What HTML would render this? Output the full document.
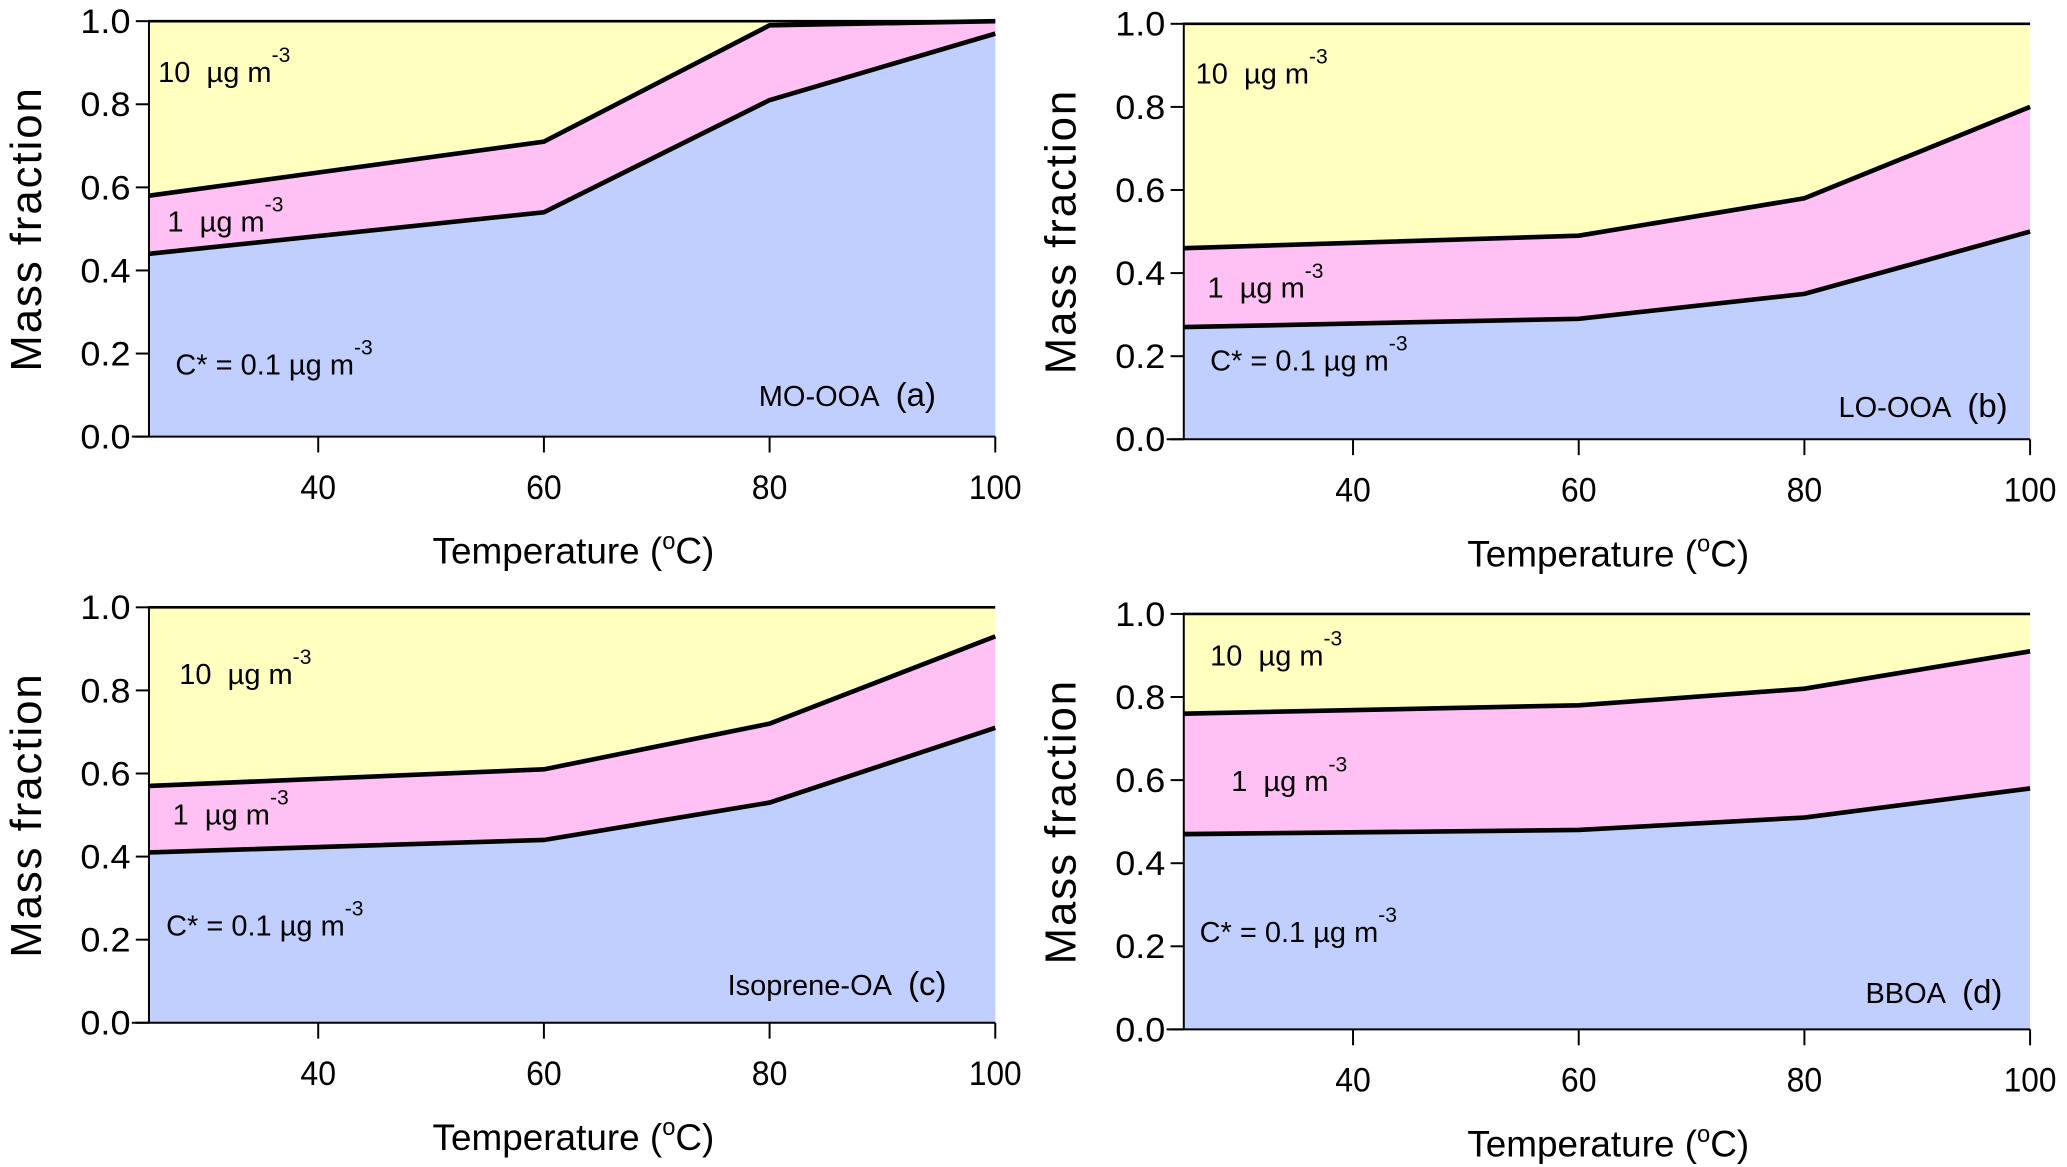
<!DOCTYPE html>
<html><head><meta charset="utf-8"><style>
html,body{margin:0;padding:0;background:#fff}
svg{display:block}
text{font-family:"Liberation Sans",sans-serif;fill:#000}
</style></head><body>
<svg id="chart" width="2067" height="1167" viewBox="0 0 1568 882" preserveAspectRatio="none" xmlns="http://www.w3.org/2000/svg"></svg>
<script>
const temps = [25, 60, 80, 100];
const xTicks = [40, 60, 80, 100];
const yTicks = [0, 0.2, 0.4, 0.6, 0.8, 1.0];
const aLow = [0.44, 0.54, 0.81, 0.97];
const aHigh = [0.58, 0.71, 0.99, 1.0];
const bLow = [0.27, 0.29, 0.35, 0.50];
const bHigh = [0.46, 0.49, 0.58, 0.80];
const cLow = [0.41, 0.44, 0.53, 0.71];
const cHigh = [0.57, 0.61, 0.72, 0.93];
const dLow = [0.47, 0.48, 0.51, 0.58];
const dHigh = [0.76, 0.78, 0.82, 0.91];
const names = ["MO-OOA", "LO-OOA", "Isoprene-OA", "BBOA"];
const letters = ["(a)", "(b)", "(c)", "(d)"];

const NS = "http://www.w3.org/2000/svg";
const svg = document.getElementById("chart");
function mk(tag, attrs, parent) {
  const e = document.createElementNS(NS, tag);
  for (const k in attrs) e.setAttribute(k, attrs[k]);
  (parent || svg).appendChild(e);
  return e;
}
const panels = [
  {left:113, top:16, low:aLow, high:aHigh, lab:[[7,62],[14,175],[20,283],[597,307]]},
  {left:898, top:18, low:bLow, high:bHigh, lab:[[9,45],[18,207],[20,262],[625,297]]},
  {left:113, top:459, low:cLow, high:cHigh, lab:[[23,58],[18,164],[13,248],[605,293]]},
  {left:898, top:464, low:dLow, high:dHigh, lab:[[20,39],[36,134],[12,248],[621,294]]}
];
panels[0].lab = [[7,46],[14,159],[20,267],[597,291]];
const W = 642, H = 314;
panels.forEach((p, i) => {
  const g = mk("g", {});
  
  
  const X = t => p.left + (t - 25) / 75 * W;
  const Y = v => p.top + H - v * H;
  const pts = arr => temps.map((t, k) => X(t) + "," + Y(arr[k])).join(" ");
  const r1 = mk("rect", {x:p.left, y:p.top, width:W, height:H, fill:"#ffffc0"}, g);
  
  
  const pk = mk("polygon", {points: pts(p.high) + " " + X(100) + "," + Y(0) + " " + X(25) + "," + Y(0), fill:"#ffc0f4"}, g);
  
  
  const bl = mk("polygon", {points: pts(p.low) + " " + X(100) + "," + Y(0) + " " + X(25) + "," + Y(0), fill:"#c0cffe"}, g);
  
  
  const l1 = mk("polyline", {points: pts(p.high), fill:"none", stroke:"#000", "stroke-width":3.5}, g);
  
  
  const l2 = mk("polyline", {points: pts(p.low), fill:"none", stroke:"#000", "stroke-width":3.5}, g);
  
  
  mk("line", {x1:p.left, y1:p.top, x2:p.left + W, y2:p.top, stroke:"#000", "stroke-width":2}, g);
  const ya = mk("line", {x1:p.left, y1:p.top - 1, x2:p.left, y2:p.top + H, stroke:"#000", "stroke-width":1.5}, g);
  
  
  const xa = mk("line", {x1:p.left - 13, y1:p.top + H, x2:p.left + W, y2:p.top + H, stroke:"#000", "stroke-width":1.5}, g);
  
  
  yTicks.forEach(v => {
    mk("line", {x1:p.left - 10, y1:Y(v), x2:p.left, y2:Y(v), stroke:"#000", "stroke-width":1.5}, g);
    const t = mk("text", {x:p.left - 14, y:Y(v) + 9, "text-anchor":"end", "font-size":26, textLength:38, lengthAdjust:"spacingAndGlyphs"}, g);
    t.textContent = v.toFixed(1);
    
    
  });
  xTicks.forEach(v => {
    mk("line", {x1:X(v), y1:p.top + H, x2:X(v), y2:p.top + H + 12, stroke:"#000", "stroke-width":1.5}, g);
    const t = mk("text", {x:X(v), y:p.top + H + 47, "text-anchor":"middle", "font-size":26, textLength:(v === 100 ? 40 : 27), lengthAdjust:"spacingAndGlyphs"}, g);
    t.textContent = v;
    
    
  });
  const yt = mk("text", {x:0, y:0, "text-anchor":"middle", "font-size":33, transform:"translate(" + (p.left - 82) + "," + (p.top + H / 2) + ") rotate(-90)", "letter-spacing":1.5}, g);
  yt.textContent = "Mass fraction";
  
  
  const xt = mk("text", {x:p.left + 322, y:p.top + H + 96, "text-anchor":"middle", "font-size":28}, g);
  xt.innerHTML = 'Temperature (<tspan dy="-11" font-size="18">o</tspan><tspan dy="11">C)</tspan>';
  
  
  const labs = ["10\u00a0\u00a0µg m", "1\u00a0\u00a0µg m", "C* = 0.1 µg m"];
  const lnames = ["label-10ug", "label-1ug", "label-0-1ug"];
  labs.forEach((s, k) => {
    const t = mk("text", {x:p.left + p.lab[k][0], y:p.top + p.lab[k][1], "font-size":22}, g);
    t.innerHTML = s + '<tspan dy="-15" font-size="16">-3</tspan>';
    
    
  });
  const nt = mk("text", {x:p.left + p.lab[3][0], y:p.top + p.lab[3][1], "text-anchor":"end", "font-size":22}, g);
  nt.innerHTML = names[i] + '\u00a0\u00a0<tspan font-size="25">' + letters[i] + '</tspan>';
  
  
});
</script>
</body></html>
